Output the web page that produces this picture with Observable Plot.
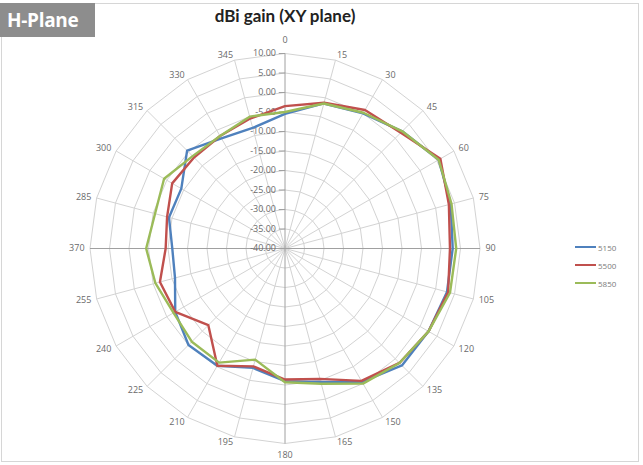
<!DOCTYPE html>
<html>
<head>
<meta charset="utf-8">
<script src="https://cdn.jsdelivr.net/npm/d3@7"></script>
<script src="https://cdn.jsdelivr.net/npm/@observablehq/plot@0.6"></script>
<style>
  html, body { margin: 0; padding: 0; background: #fff; }
  #wrap { position: relative; width: 643px; height: 465px; overflow: hidden; background: #fff; }
  #frame { position: absolute; left: 1px; top: 3px; width: 638px; height: 459px; border: 1px solid #d6d6d6; box-sizing: border-box; }
  #tab { position: absolute; left: 0; top: 3px; width: 95px; height: 34px; background: #8d8d8d; color: #fff;
         font: bold 19px "Open Sans", Lato, sans-serif; line-height: 34px; padding-left: 7px; box-sizing: border-box; letter-spacing: -0.3px; }
  #title { position: absolute; left: 0; width: 570px; top: 5px; text-align: center; font: bold 17px Lato, "Open Sans", sans-serif; color: #222; }
  #chart { position: absolute; left: 0; top: 0; }
  #legend { position: absolute; left: 575px; top: 238px; font: 8px "Open Sans", sans-serif; color: #7a7a7a; }
  #legend div { height: 18px; display: flex; align-items: center; }
  #legend span.sw { display: inline-block; width: 21px; height: 2px; margin-right: 2px; }
</style>
</head>
<body>
<div id="wrap">
  <div id="frame"></div>
  <div id="chart"></div>
  <div id="tab">H-Plane</div>
  <div id="title">dBi gain (XY plane)</div>
  <div id="legend"></div>
</div>
<script>
// ---- data ----
const angles = [0, 15, 30, 45, 60, 75, 90, 105, 120, 135, 150, 165, 180, 195, 210, 225, 240, 255, 270, 285, 300, 315, 330, 345];
const angleLabels = ["0", "15", "30", "45", "60", "75", "90", "105", "120", "135", "150", "165", "180", "195", "210", "225", "240", "255", "370", "285", "300", "315", "330", "345"];
const seriesNames = ["5150", "5500", "5850"];
const seriesColors = ["#4f81bd", "#c0504d", "#9bbb59"];
const gain5150 = [-5.5, -1.5, 0.0, 2.5, 5.5, 4.0, 3.0, 3.0, 2.5, 2.4, -0.5, -4.6, -6.0, -8.3, -5.3, -5.0, -7.5, -10.8, -11.1, -9.2, -9.3, -4.5, -7.4, -8.0];
const gain5500 = [-3.5, -1.3, 1.0, 2.0, 6.0, 3.5, 2.3, 3.3, 2.5, 1.5, -0.8, -5.4, -6.4, -8.7, -5.3, -12.2, -7.5, -6.8, -9.4, -8.7, -6.6, -7.0, -6.7, -5.5];
const gain5850 = [-5.0, -1.5, 0.2, 2.5, 5.5, 4.2, 3.9, 3.8, 2.5, 1.5, 0.0, -4.1, -5.7, -10.5, -6.2, -6.2, -7.0, -5.6, -4.4, -5.5, -4.2, -6.5, -6.7, -5.0];
const ringValues = [-40, -35, -30, -25, -20, -15, -10, -5, 0, 5, 10];

// ---- geometry helpers (data units: dB above the -40 centre) ----
const rMin = -40, rMax = 10;
const toXY = (angle, v, extra = 0) => {
  const a = angle * Math.PI / 180, r = v - rMin + extra;
  return { x: r * Math.sin(a), y: r * Math.cos(a) };
};

const cx = 284.5, cy = 248, rad = 195;
const span = rMax - rMin;

// rings
const rings = [];
ringValues.filter(v => v > rMin).forEach(v => {
  angles.concat([angles[0]]).forEach(a => rings.push({ ring: v, ...toXY(a, v) }));
});
// spokes
const spokes = angles.map(a => ({ angle: a, ...toXY(a, rMax) }));
// series
const gains = [gain5150, gain5500, gain5850];
const lines = [];
seriesNames.forEach((s, i) => {
  angles.concat([angles[0]]).forEach((a, j) => lines.push({ series: s, ...toXY(a, gains[i][j % angles.length]) }));
});
// labels
const lab = angles.map((a, i) => ({ angle: a, text: angleLabels[i] }));
const labR = 51.4;
const rightLabs = lab.filter(d => d.angle > 0 && d.angle < 180).map(d => ({ ...d, ...toXY(d.angle, rMax, labR - span) }));
const leftLabs = lab.filter(d => d.angle > 180).map(d => ({ ...d, ...toXY(d.angle, rMax, labR - span) }));
const topLab = lab.filter(d => d.angle === 0).map(d => ({ ...d, ...toXY(d.angle, rMax, 2.6) }));
const botLab = lab.filter(d => d.angle === 180).map(d => ({ ...d, ...toXY(d.angle, rMax, 2.2) }));

const chart = Plot.plot({
  width: 643, height: 465, margin: 0,
  style: { background: "transparent", fontFamily: "'Open Sans', sans-serif", overflow: "visible" },
  x: { domain: [-span, span], range: [cx - rad, cx + rad], axis: null },
  y: { domain: [-span, span], range: [cy + rad, cy - rad], axis: null },
  color: { domain: seriesNames, range: seriesColors },
  marks: [
    Plot.line(rings, { x: "x", y: "y", z: "ring", stroke: "#d3d3d3", strokeWidth: 1 }),
    Plot.link(spokes.filter(d => d.angle % 90 !== 0), { x1: d => 0, y1: d => 0, x2: "x", y2: "y", stroke: "#d3d3d3", strokeWidth: 1 }),
    Plot.link(spokes.filter(d => d.angle % 90 === 0), { x1: d => 0, y1: d => 0, x2: "x", y2: "y", stroke: "#a0a0a0", strokeWidth: 1 }),
    Plot.link(ringValues, { x1: d => -1.6, x2: d => 0, y1: d => d - rMin, y2: d => d - rMin, stroke: "#a0a0a0", strokeWidth: 1 }),
    Plot.text(ringValues, { x: d => 0, y: d => d - rMin, text: d => d.toFixed(2), textAnchor: "end", dx: -9, fontSize: 9, fill: "#6a6a6a" }),
    Plot.line(lines, { x: "x", y: "y", z: "series", stroke: "series", strokeWidth: 2.4, strokeLinejoin: "round" }),
    Plot.text(rightLabs, { x: "x", y: "y", text: "text", textAnchor: "start", fontSize: 9, fill: "#6a6a6a" }),
    Plot.text(leftLabs, { x: "x", y: "y", text: "text", textAnchor: "end", fontSize: 9, fill: "#6a6a6a" }),
    Plot.text(topLab, { x: "x", y: "y", text: "text", lineAnchor: "bottom", fontSize: 9, fill: "#6a6a6a" }),
    Plot.text(botLab, { x: "x", y: "y", text: "text", lineAnchor: "top", fontSize: 9, fill: "#6a6a6a" })
  ]
});
document.getElementById("chart").appendChild(chart);

const legend = document.getElementById("legend");
seriesNames.forEach((s, i) => {
  const row = document.createElement("div");
  const sw = document.createElement("span");
  sw.className = "sw"; sw.style.background = seriesColors[i];
  row.appendChild(sw);
  row.appendChild(document.createTextNode(s));
  legend.appendChild(row);
});
</script>
</body>
</html>
